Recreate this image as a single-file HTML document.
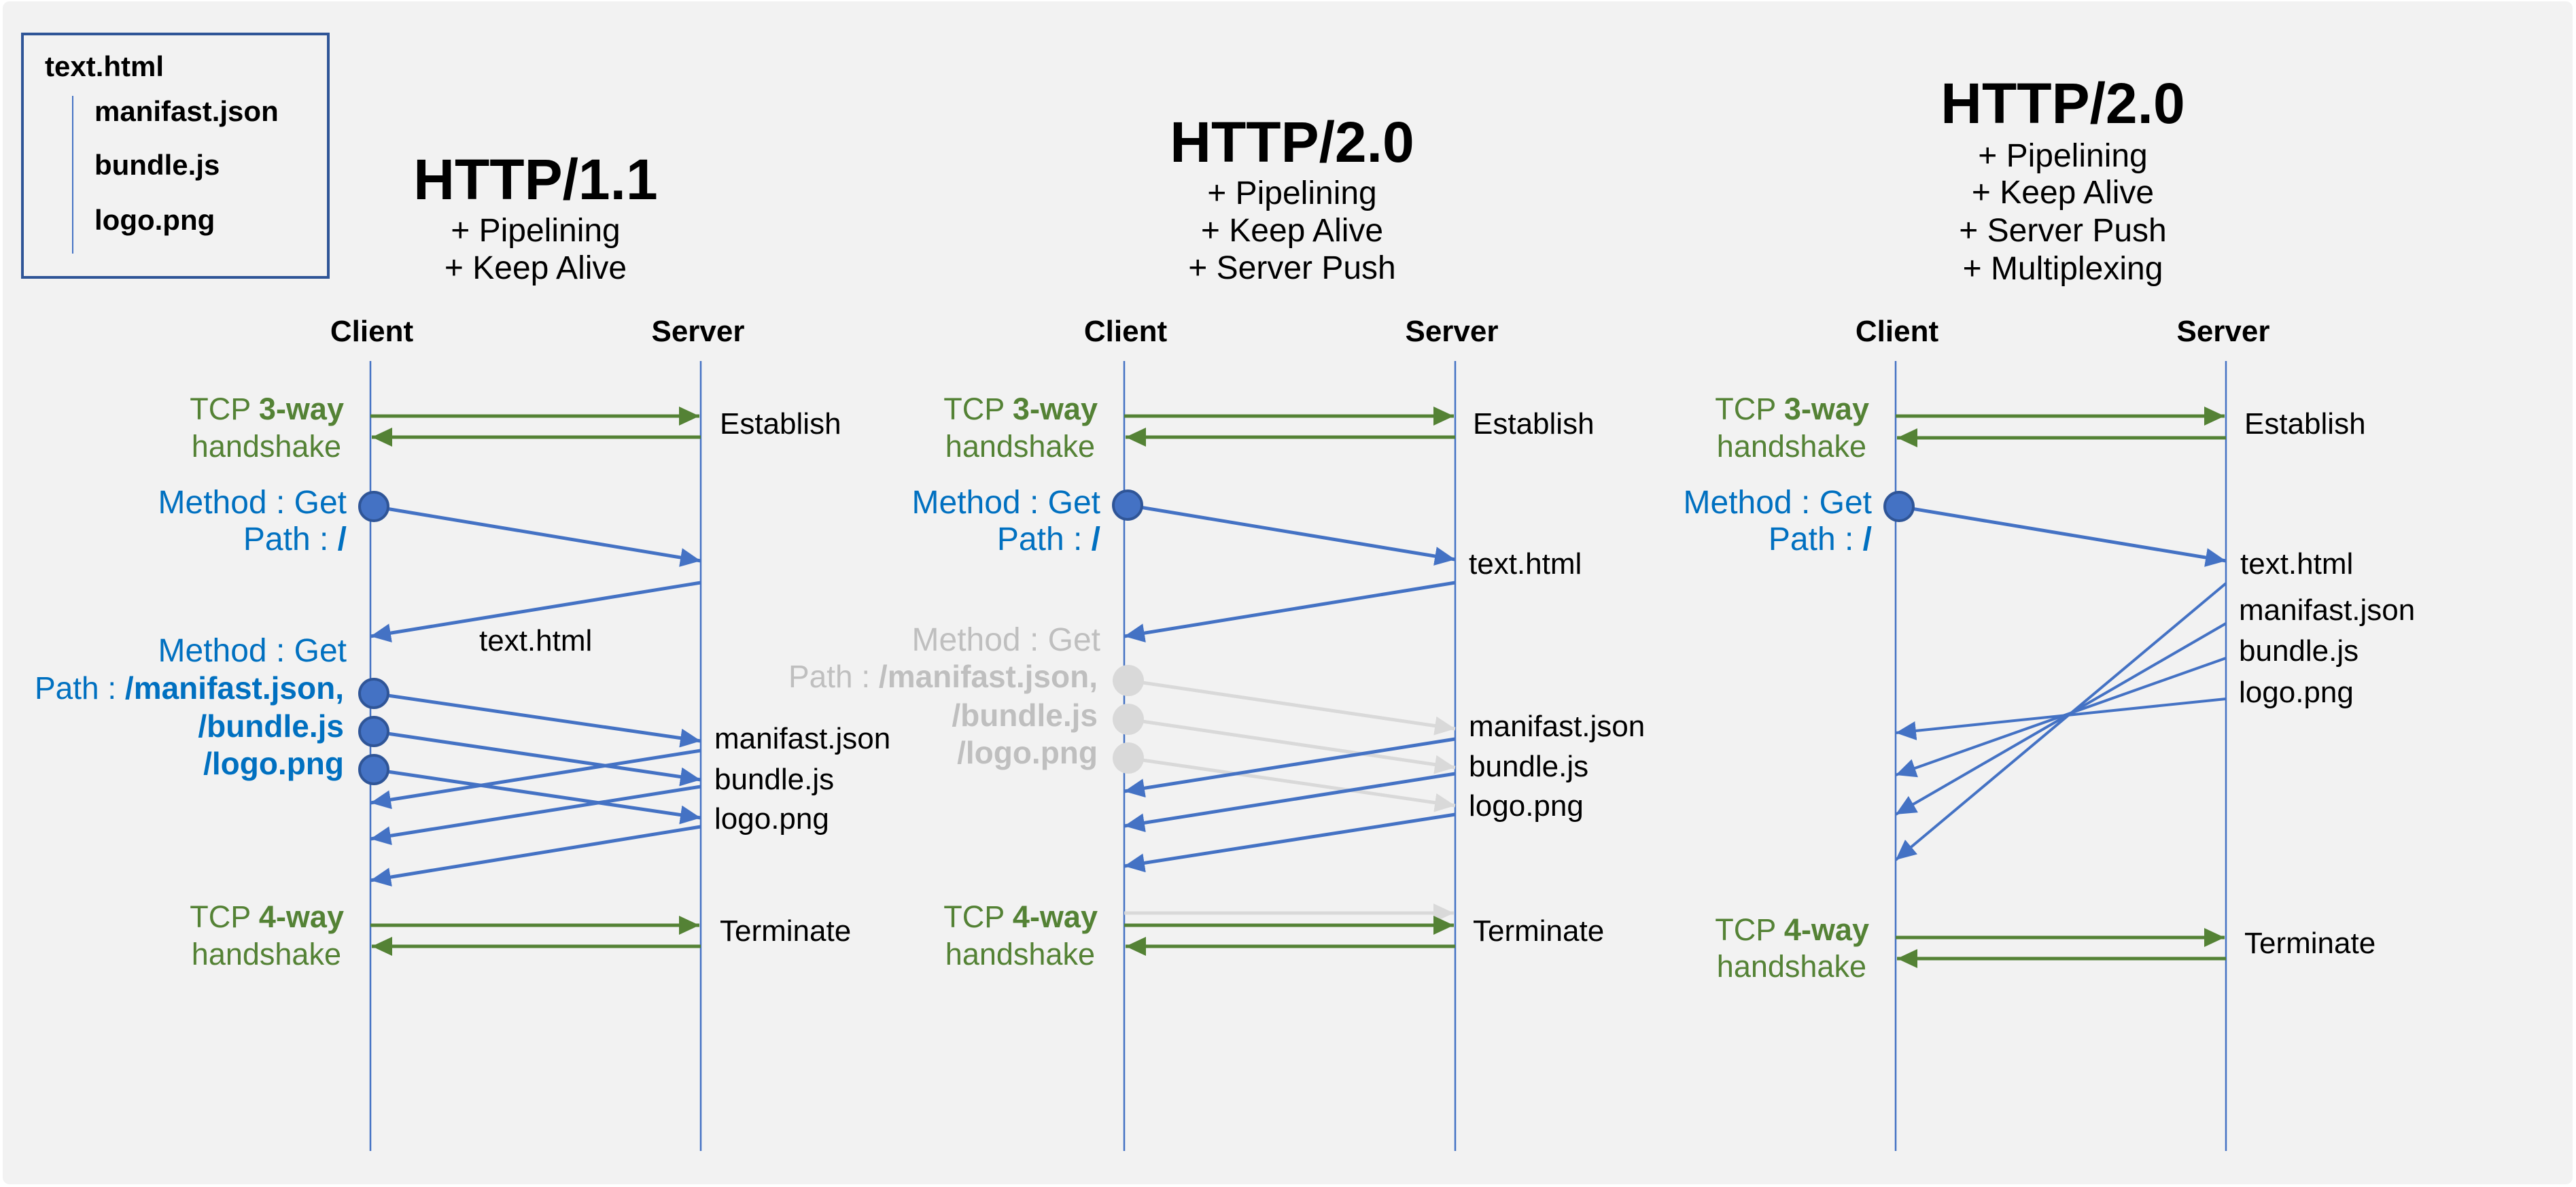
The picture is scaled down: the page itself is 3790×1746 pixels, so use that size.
<!DOCTYPE html>
<html><head><meta charset="utf-8"><style>
html,body{margin:0;padding:0;background:#fff;}
svg{display:block;}
text{font-family:"Liberation Sans",sans-serif;}
</style></head><body>
<svg width="3790" height="1746" viewBox="0 0 3790 1746" xmlns="http://www.w3.org/2000/svg">
<defs>
<marker id="ab" markerUnits="userSpaceOnUse" markerWidth="32" markerHeight="30" refX="30" refY="14" orient="auto"><path d="M0,0 L30,14 L0,28 z" fill="#4472c4"/></marker>
<marker id="ag" markerUnits="userSpaceOnUse" markerWidth="32" markerHeight="30" refX="30" refY="14" orient="auto"><path d="M0,0 L30,14 L0,28 z" fill="#548235"/></marker>
<marker id="ay" markerUnits="userSpaceOnUse" markerWidth="32" markerHeight="30" refX="30" refY="14" orient="auto"><path d="M0,0 L30,14 L0,28 z" fill="#d9d9d9"/></marker>
</defs>
<rect x="4" y="2" width="3781" height="1740" rx="10" fill="#f2f2f2"/>

<!-- legend -->
<rect x="33" y="50" width="450" height="358" fill="none" stroke="#2f5597" stroke-width="4"/>
<line x1="107" y1="141" x2="107" y2="373" stroke="#4472c4" stroke-width="2"/>
<g font-weight="bold" font-size="42" fill="#000">
<text x="66" y="112">text.html</text>
<text x="139" y="178">manifast.json</text>
<text x="139" y="257">bundle.js</text>
<text x="139" y="338">logo.png</text>
</g>

<!-- ===== Panel 1 ===== -->
<text x="788" y="293" font-size="84" font-weight="bold" text-anchor="middle">HTTP/1.1</text>
<g font-size="48" text-anchor="middle"><text x="788" y="355">+ Pipelining</text><text x="788" y="410">+ Keep Alive</text></g>
<g font-size="44" font-weight="bold" text-anchor="middle"><text x="547" y="502">Client</text><text x="1027" y="502">Server</text></g>
<g stroke="#4472c4" stroke-width="2.5"><line x1="545" y1="531" x2="545" y2="1693"/><line x1="1031" y1="531" x2="1031" y2="1693"/></g>
<g stroke="#548235" stroke-width="5">
<line x1="545" y1="612" x2="1029" y2="612" marker-end="url(#ag)"/>
<line x1="1031" y1="643" x2="547" y2="643" marker-end="url(#ag)"/>
<line x1="545" y1="1361" x2="1029" y2="1361" marker-end="url(#ag)"/>
<line x1="1031" y1="1392" x2="547" y2="1392" marker-end="url(#ag)"/>
</g>
<g font-size="45" fill="#548235" text-anchor="end">
<text x="506" y="617">TCP <tspan font-weight="bold">3-way</tspan></text><text x="502" y="672">handshake</text>
<text x="506" y="1364">TCP <tspan font-weight="bold">4-way</tspan></text><text x="502" y="1419">handshake</text>
</g>
<g font-size="44"><text x="1059" y="638">Establish</text><text x="1059" y="1384">Terminate</text>
<text x="705" y="957">text.html</text>
<text x="1051" y="1101">manifast.json</text><text x="1051" y="1161">bundle.js</text><text x="1051" y="1219">logo.png</text></g>
<g font-size="48" fill="#0070c0" text-anchor="end">
<text x="510" y="755">Method : Get</text><text x="510" y="809">Path : <tspan font-weight="bold">/</tspan></text>
<text x="510" y="973">Method : Get</text>
</g>
<g font-size="46" fill="#0070c0" text-anchor="end">
<text x="506" y="1028">Path : <tspan font-weight="bold">/manifast.json,</tspan></text>
<text x="506" y="1084" font-weight="bold">/bundle.js</text>
<text x="506" y="1139" font-weight="bold">/logo.png</text>
</g>
<g stroke="#4472c4" stroke-width="5" fill="none">
<line x1="550" y1="745" x2="1031" y2="825" marker-end="url(#ab)"/>
<line x1="1031" y1="857" x2="545" y2="936" marker-end="url(#ab)"/>
<line x1="550" y1="1020" x2="1031" y2="1090" marker-end="url(#ab)"/>
<line x1="550" y1="1076" x2="1031" y2="1147" marker-end="url(#ab)"/>
<line x1="550" y1="1132" x2="1031" y2="1203" marker-end="url(#ab)"/>
<line x1="1031" y1="1104" x2="545" y2="1181" marker-end="url(#ab)"/>
<line x1="1031" y1="1157" x2="545" y2="1234" marker-end="url(#ab)"/>
<line x1="1031" y1="1216" x2="545" y2="1295" marker-end="url(#ab)"/>
</g>
<g fill="#4472c4" stroke="#2f5597" stroke-width="4">
<circle cx="550" cy="745" r="21"/><circle cx="550" cy="1020" r="21"/><circle cx="550" cy="1076" r="21"/><circle cx="550" cy="1132" r="21"/>
</g>

<!-- ===== Panel 2 ===== -->
<text x="1901" y="238" font-size="84" font-weight="bold" text-anchor="middle">HTTP/2.0</text>
<g font-size="48" text-anchor="middle"><text x="1901" y="300">+ Pipelining</text><text x="1901" y="355">+ Keep Alive</text><text x="1901" y="410">+ Server Push</text></g>
<g font-size="44" font-weight="bold" text-anchor="middle"><text x="1656" y="502">Client</text><text x="2136" y="502">Server</text></g>
<g stroke="#4472c4" stroke-width="2.5"><line x1="1654" y1="531" x2="1654" y2="1693"/><line x1="2141" y1="531" x2="2141" y2="1693"/></g>
<line x1="1654" y1="1343" x2="2139" y2="1343" stroke="#d9d9d9" stroke-width="5" marker-end="url(#ay)"/>
<g stroke="#548235" stroke-width="5">
<line x1="1654" y1="612" x2="2139" y2="612" marker-end="url(#ag)"/>
<line x1="2141" y1="643" x2="1656" y2="643" marker-end="url(#ag)"/>
<line x1="1654" y1="1361" x2="2139" y2="1361" marker-end="url(#ag)"/>
<line x1="2141" y1="1392" x2="1656" y2="1392" marker-end="url(#ag)"/>
</g>
<g font-size="45" fill="#548235" text-anchor="end">
<text x="1615" y="617">TCP <tspan font-weight="bold">3-way</tspan></text><text x="1611" y="672">handshake</text>
<text x="1615" y="1364">TCP <tspan font-weight="bold">4-way</tspan></text><text x="1611" y="1419">handshake</text>
</g>
<g font-size="44"><text x="2167" y="638">Establish</text><text x="2167" y="1384">Terminate</text>
<text x="2161" y="844">text.html</text>
<text x="2161" y="1083">manifast.json</text><text x="2161" y="1142">bundle.js</text><text x="2161" y="1200">logo.png</text></g>
<g font-size="48" fill="#0070c0" text-anchor="end">
<text x="1619" y="755">Method : Get</text><text x="1619" y="809">Path : <tspan font-weight="bold">/</tspan></text>
</g>
<g font-size="48" fill="#bfbfbf" text-anchor="end">
<text x="1619" y="957">Method : Get</text>
</g>
<g font-size="46" fill="#bfbfbf" text-anchor="end">
<text x="1615" y="1011">Path : <tspan font-weight="bold">/manifast.json,</tspan></text>
<text x="1615" y="1068" font-weight="bold">/bundle.js</text>
<text x="1615" y="1123" font-weight="bold">/logo.png</text>
</g>
<g stroke="#d9d9d9" stroke-width="5">
<line x1="1660" y1="1001" x2="2141" y2="1072" marker-end="url(#ay)"/>
<line x1="1660" y1="1058" x2="2141" y2="1129" marker-end="url(#ay)"/>
<line x1="1660" y1="1115" x2="2141" y2="1185" marker-end="url(#ay)"/>
</g>
<g fill="#d9d9d9"><circle cx="1660" cy="1001" r="23"/><circle cx="1660" cy="1058" r="23"/><circle cx="1660" cy="1115" r="23"/></g>
<g stroke="#4472c4" stroke-width="5">
<line x1="1659" y1="743" x2="2141" y2="823" marker-end="url(#ab)"/>
<line x1="2141" y1="857" x2="1654" y2="936" marker-end="url(#ab)"/>
<line x1="2141" y1="1087" x2="1654" y2="1164" marker-end="url(#ab)"/>
<line x1="2141" y1="1138" x2="1654" y2="1215" marker-end="url(#ab)"/>
<line x1="2141" y1="1198" x2="1654" y2="1274" marker-end="url(#ab)"/>
</g>
<circle cx="1659" cy="743" r="21" fill="#4472c4" stroke="#2f5597" stroke-width="4"/>

<!-- ===== Panel 3 ===== -->
<text x="3035" y="181" font-size="84" font-weight="bold" text-anchor="middle">HTTP/2.0</text>
<g font-size="48" text-anchor="middle"><text x="3035" y="245">+ Pipelining</text><text x="3035" y="299">+ Keep Alive</text><text x="3035" y="355">+ Server Push</text><text x="3035" y="411">+ Multiplexing</text></g>
<g font-size="44" font-weight="bold" text-anchor="middle"><text x="2791" y="502">Client</text><text x="3271" y="502">Server</text></g>
<g stroke="#4472c4" stroke-width="2.5"><line x1="2789" y1="531" x2="2789" y2="1693"/><line x1="3275" y1="531" x2="3275" y2="1693"/></g>
<g stroke="#548235" stroke-width="5">
<line x1="2789" y1="612" x2="3273" y2="612" marker-end="url(#ag)"/>
<line x1="3275" y1="644" x2="2791" y2="644" marker-end="url(#ag)"/>
<line x1="2789" y1="1379" x2="3273" y2="1379" marker-end="url(#ag)"/>
<line x1="3275" y1="1410" x2="2791" y2="1410" marker-end="url(#ag)"/>
</g>
<g font-size="45" fill="#548235" text-anchor="end">
<text x="2750" y="617">TCP <tspan font-weight="bold">3-way</tspan></text><text x="2746" y="672">handshake</text>
<text x="2750" y="1383">TCP <tspan font-weight="bold">4-way</tspan></text><text x="2746" y="1437">handshake</text>
</g>
<g font-size="44"><text x="3302" y="638">Establish</text><text x="3302" y="1402">Terminate</text>
<text x="3296" y="844">text.html</text>
<text x="3294" y="912">manifast.json</text><text x="3294" y="972">bundle.js</text><text x="3294" y="1033">logo.png</text></g>
<g font-size="48" fill="#0070c0" text-anchor="end">
<text x="2754" y="755">Method : Get</text><text x="2754" y="809">Path : <tspan font-weight="bold">/</tspan></text>
</g>
<g stroke="#4472c4" stroke-width="4">
<line x1="2794" y1="745" x2="3275" y2="825" stroke-width="5" marker-end="url(#ab)"/>
<line x1="3275" y1="858" x2="2789" y2="1265" marker-end="url(#ab)"/>
<line x1="3275" y1="917" x2="2789" y2="1198" marker-end="url(#ab)"/>
<line x1="3275" y1="968" x2="2789" y2="1140" marker-end="url(#ab)"/>
<line x1="3275" y1="1028" x2="2789" y2="1078" marker-end="url(#ab)"/>
</g>
<circle cx="2794" cy="745" r="21" fill="#4472c4" stroke="#2f5597" stroke-width="4"/>
</svg>
</body></html>
